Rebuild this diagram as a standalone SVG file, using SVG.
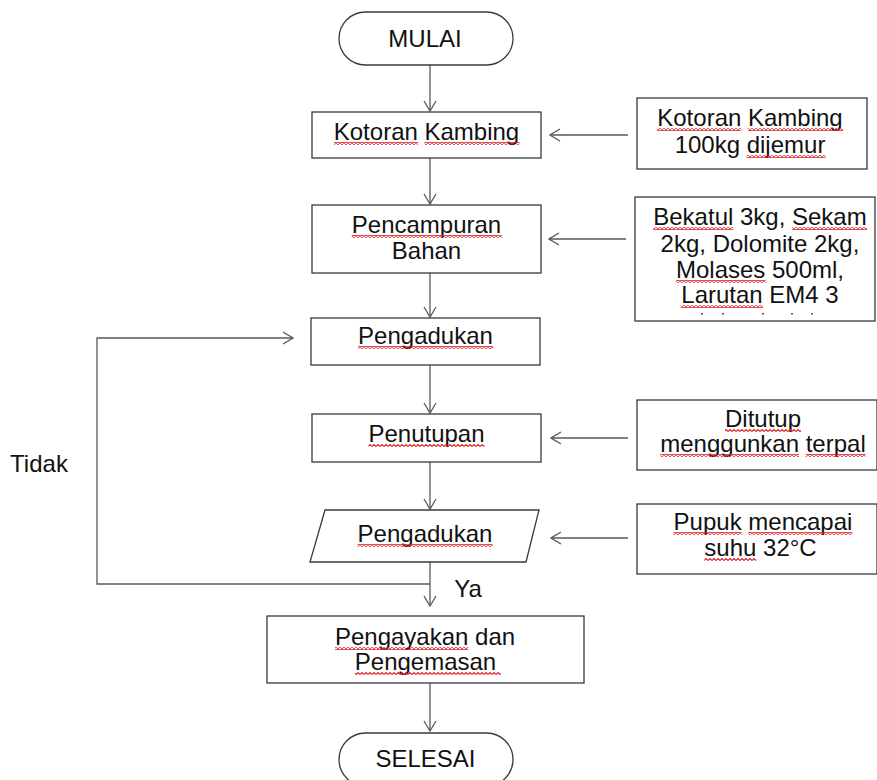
<svg xmlns="http://www.w3.org/2000/svg" width="877" height="780" viewBox="0 0 877 780">
<style>
text{font-family:"Liberation Sans",Arial,sans-serif;font-size:24px;fill:#111;text-anchor:middle}
.box{fill:#fff;stroke:#3a3a3a;stroke-width:1.3}
.con{fill:none;stroke:#595959;stroke-width:1.3}
.sq{fill:url(#squig)}
</style>
<defs>
<marker id="arr" viewBox="0 0 12 14" markerUnits="userSpaceOnUse" markerWidth="12" markerHeight="14" refX="11" refY="7" orient="auto">
<path d="M1,1 L11,7 L1,13" fill="none" stroke="#595959" stroke-width="1.3"/>
</marker>
<pattern id="squig" patternUnits="userSpaceOnUse" width="4" height="3">
<path d="M0,2.5 L2,0.5 L4,2.5" fill="none" stroke="#e01e22" stroke-width="1.1"/>
</pattern>
</defs>
<rect width="877" height="780" fill="#fff"/>
<g id="connectors">
<line class="con" x1="430" y1="65" x2="430" y2="111" marker-end="url(#arr)"/>
<line class="con" x1="430" y1="158" x2="430" y2="204" marker-end="url(#arr)"/>
<line class="con" x1="430" y1="273" x2="430" y2="317" marker-end="url(#arr)"/>
<line class="con" x1="430" y1="365" x2="430" y2="413" marker-end="url(#arr)"/>
<line class="con" x1="430" y1="462" x2="430" y2="509" marker-end="url(#arr)"/>
<line class="con" x1="430" y1="562" x2="430" y2="606" marker-end="url(#arr)"/>
<line class="con" x1="430" y1="683" x2="430" y2="731" marker-end="url(#arr)"/>
<line class="con" x1="628" y1="135" x2="550" y2="135" marker-end="url(#arr)"/>
<line class="con" x1="626" y1="239" x2="549" y2="239" marker-end="url(#arr)"/>
<line class="con" x1="628" y1="438" x2="551" y2="438" marker-end="url(#arr)"/>
<line class="con" x1="628" y1="538" x2="551" y2="538" marker-end="url(#arr)"/>
<polyline class="con" points="430,584 97,584 97,338 293,338" marker-end="url(#arr)"/>
<text x="39" y="472">Tidak</text>
<text x="468" y="597">Ya</text>
</g>
<g id="mulai">
<rect class="box" x="339" y="12" width="174" height="53" rx="26.5"/>
<text x="425" y="47">MULAI</text>
</g>
<g id="kotoran">
<rect class="box" x="312" y="112" width="229" height="46"/>
<text x="426.5" y="140">Kotoran Kambing</text>
<rect class="sq" x="334" y="142" width="84" height="3"/>
<rect class="sq" x="424.5" y="142" width="95" height="3"/>
</g>
<g id="kotoran-input">
<rect class="box" x="637" y="98" width="230" height="71"/>
<text x="750" y="126">Kotoran Kambing</text>
<text x="750" y="153">100kg dijemur</text>
<rect class="sq" x="657.3" y="128" width="84" height="3"/>
<rect class="sq" x="748" y="128" width="95" height="3"/>
<rect class="sq" x="746.7" y="155" width="79" height="3"/>
</g>
<g id="pencampuran">
<rect class="box" x="312" y="205" width="229" height="68"/>
<text x="426.5" y="233">Pencampuran</text>
<text x="426.5" y="259">Bahan</text>
<rect class="sq" x="351.8" y="235" width="150" height="3"/>
</g>
<g id="bahan-input">
<rect class="box" x="635" y="197" width="240" height="124"/>
<text x="760" y="225">Bekatul 3kg, Sekam</text>
<text x="760" y="252">2kg, Dolomite 2kg,</text>
<text x="760" y="278">Molases 500ml,</text>
<text x="760" y="303">Larutan EM4 3</text>
<rect class="sq" x="653.3" y="227" width="80" height="3"/>
<rect class="sq" x="792" y="227" width="75" height="3"/>
<rect class="sq" x="676" y="280" width="89.4" height="3"/>
<rect class="sq" x="681.3" y="305" width="81.4" height="3"/>
<g fill="#555"><rect x="701" y="313" width="2" height="1.5"/><rect x="722" y="313" width="2" height="1.5"/><rect x="762" y="313" width="2" height="1.5"/><rect x="791" y="313" width="2" height="1.5"/><rect x="811" y="313" width="2" height="1.5"/></g>
</g>
<g id="pengadukan1">
<rect class="box" x="311" y="318" width="229" height="47"/>
<text x="425.5" y="344">Pengadukan</text>
<rect class="sq" x="358.2" y="346" width="135" height="3"/>
</g>
<g id="penutupan">
<rect class="box" x="312" y="414" width="229" height="48"/>
<text x="426.5" y="442">Penutupan</text>
<rect class="sq" x="368.5" y="444" width="116" height="3"/>
</g>
<g id="penutupan-input">
<rect class="box" x="637" y="400" width="240" height="70"/>
<text x="763" y="427">Ditutup</text>
<text x="763" y="452">menggunkan terpal</text>
<rect class="sq" x="725" y="429" width="76" height="3"/>
<rect class="sq" x="660.3" y="454" width="138.7" height="3"/>
<rect class="sq" x="805.7" y="454" width="60" height="3"/>
</g>
<g id="pengadukan2">
<polygon class="box" points="325,510 539,510 526,562 310,562"/>
<text x="425" y="542">Pengadukan</text>
<rect class="sq" x="357.6" y="544" width="135" height="3"/>
</g>
<g id="suhu-input">
<rect class="box" x="637" y="504" width="240" height="70"/>
<text x="763" y="530">Pupuk mencapai</text>
<text x="760.5" y="556">suhu 32°C</text>
<rect class="sq" x="673.6" y="532" width="68" height="3"/>
<rect class="sq" x="748.3" y="532" width="104" height="3"/>
<rect class="sq" x="704.3" y="558" width="52" height="3"/>
</g>
<g id="pengayakan">
<rect class="box" x="267" y="616" width="317" height="67"/>
<text x="425" y="645">Pengayakan dan</text>
<text x="425.5" y="670">Pengemasan</text>
<rect class="sq" x="335" y="647" width="133.3" height="3"/>
<rect class="sq" x="354.8" y="672" width="146" height="3"/>
</g>
<g id="selesai">
<rect class="box" x="339" y="733" width="174" height="53" rx="26.5"/>
<text x="425.5" y="767">SELESAI</text>
</g>
</svg>
